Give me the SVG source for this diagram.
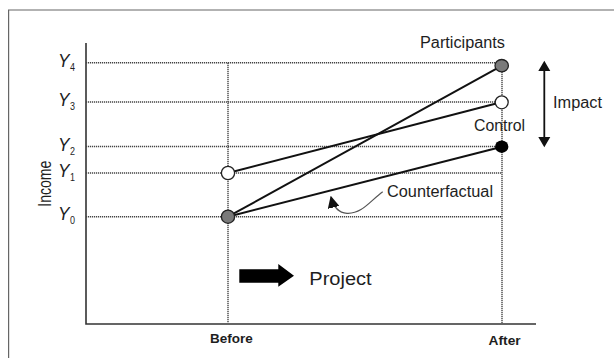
<svg xmlns="http://www.w3.org/2000/svg" width="614" height="358" viewBox="0 0 614 358">
<style>
text{font-family:"Liberation Sans",Arial,sans-serif;fill:#1e1e1e}
.grid{stroke:#444;stroke-width:1.4;stroke-dasharray:1.2 0.8;fill:none}
.axis{stroke:#333;stroke-width:1.6;fill:none}
.line{stroke:#111;stroke-width:2;fill:none}
.pt{stroke:#222;stroke-width:1.3}
.yl{font-style:italic;font-size:19px}
.sub{font-size:11px}
.lbl{font-size:16px}
</style>
<defs>
<marker id="ah" markerWidth="12" markerHeight="12" refX="9" refY="5" orient="auto" markerUnits="userSpaceOnUse" viewBox="0 0 10 10">
<path d="M0,0 L10,5 L0,10 Z" fill="#111"/>
</marker>
</defs>
<rect width="614" height="358" fill="#fff"/>
<g id="frame"><path d="M8.6,358 V10 H614" stroke="#666" stroke-width="1.2" fill="none"/></g>
<g id="axes">
<path class="axis" d="M86,43 V324 H536"/>
</g>
<g id="gridlines">
<path class="grid" d="M86,62.7 H502 M86,102 H502 M86,146.5 H502 M86,173 H502 M86,216.7 H502"/>
<path class="grid" d="M228,62.7 V323 M502,66 V323"/>
</g>
<g id="ylabels">
<text class="yl" x="58" y="66.7" textLength="11.5" lengthAdjust="spacingAndGlyphs">Y</text><text class="sub" x="70" y="70.7" textLength="5" lengthAdjust="spacingAndGlyphs">4</text>
<text class="yl" x="58" y="106" textLength="11.5" lengthAdjust="spacingAndGlyphs">Y</text><text class="sub" x="70" y="110" textLength="5" lengthAdjust="spacingAndGlyphs">3</text>
<text class="yl" x="58" y="150.5" textLength="11.5" lengthAdjust="spacingAndGlyphs">Y</text><text class="sub" x="70" y="154.5" textLength="5" lengthAdjust="spacingAndGlyphs">2</text>
<text class="yl" x="58" y="177" textLength="11.5" lengthAdjust="spacingAndGlyphs">Y</text><text class="sub" x="70" y="181" textLength="5" lengthAdjust="spacingAndGlyphs">1</text>
<text class="yl" x="58" y="220" textLength="11.5" lengthAdjust="spacingAndGlyphs">Y</text><text class="sub" x="70" y="224" textLength="5" lengthAdjust="spacingAndGlyphs">0</text>
</g>
<g id="income"><text x="0" y="0" font-size="18" text-anchor="middle" textLength="46" lengthAdjust="spacingAndGlyphs" transform="translate(50.5,183.7) rotate(-90)">Income</text></g>
<g id="connectors">
<line class="line" x1="228" y1="173" x2="502" y2="102"/>
<line class="line" x1="228" y1="216.7" x2="502" y2="65.7"/>
<line class="line" x1="228" y1="216.7" x2="502" y2="146.7"/>
<path d="M382.7,191.7 C370,201 362,214 347,213.3 C337,212.8 333,205 331,197" stroke="#555" stroke-width="1.2" fill="none" marker-end="url(#ah)"/>
<line x1="544.3" y1="70" x2="544.3" y2="138" stroke="#111" stroke-width="1.8"/>
<path d="M544.3,60.7 L538.3,71 L550.3,71 Z M544.3,147.3 L538.3,137 L550.3,137 Z" fill="#111"/>
</g>
<g id="before-control"><circle class="pt" cx="228" cy="173" r="6.6" fill="#fff"/></g>
<g id="before-participants"><circle class="pt" cx="228" cy="216.7" r="6.6" fill="#7a7a7a"/></g>
<g id="after-participants"><ellipse class="pt" cx="501.7" cy="65.7" rx="6.7" ry="6.2" fill="#7a7a7a"/></g>
<g id="after-control"><circle class="pt" cx="501.7" cy="102.3" r="6.5" fill="#fff"/></g>
<g id="after-counterfactual"><ellipse cx="501.7" cy="146.7" rx="6.7" ry="6.2" fill="#000"/></g>
<g id="labels">
<text class="lbl" x="420" y="48" font-size="15" textLength="85" lengthAdjust="spacingAndGlyphs">Participants</text>
<text class="lbl" x="553" y="108" textLength="49" lengthAdjust="spacingAndGlyphs">Impact</text>
<text class="lbl" x="474" y="131" textLength="51" lengthAdjust="spacingAndGlyphs">Control</text>
<text class="lbl" x="387" y="196.7" textLength="106" lengthAdjust="spacingAndGlyphs">Counterfactual</text>
</g>
<g id="project">
<path d="M239.3,269.3 H278.3 V264 L294,275.7 L278.3,286.7 V282.7 H239.3 Z" fill="#000"/>
<text x="309.3" y="285" font-size="18" textLength="62.4" lengthAdjust="spacingAndGlyphs">Project</text>
</g>
<g id="xlabels">
<text x="210" y="343" font-size="12.5" font-weight="bold" textLength="42.7" lengthAdjust="spacingAndGlyphs">Before</text>
<text x="488.6" y="345" font-size="12.5" font-weight="bold" textLength="32" lengthAdjust="spacingAndGlyphs">After</text>
</g>
</svg>
